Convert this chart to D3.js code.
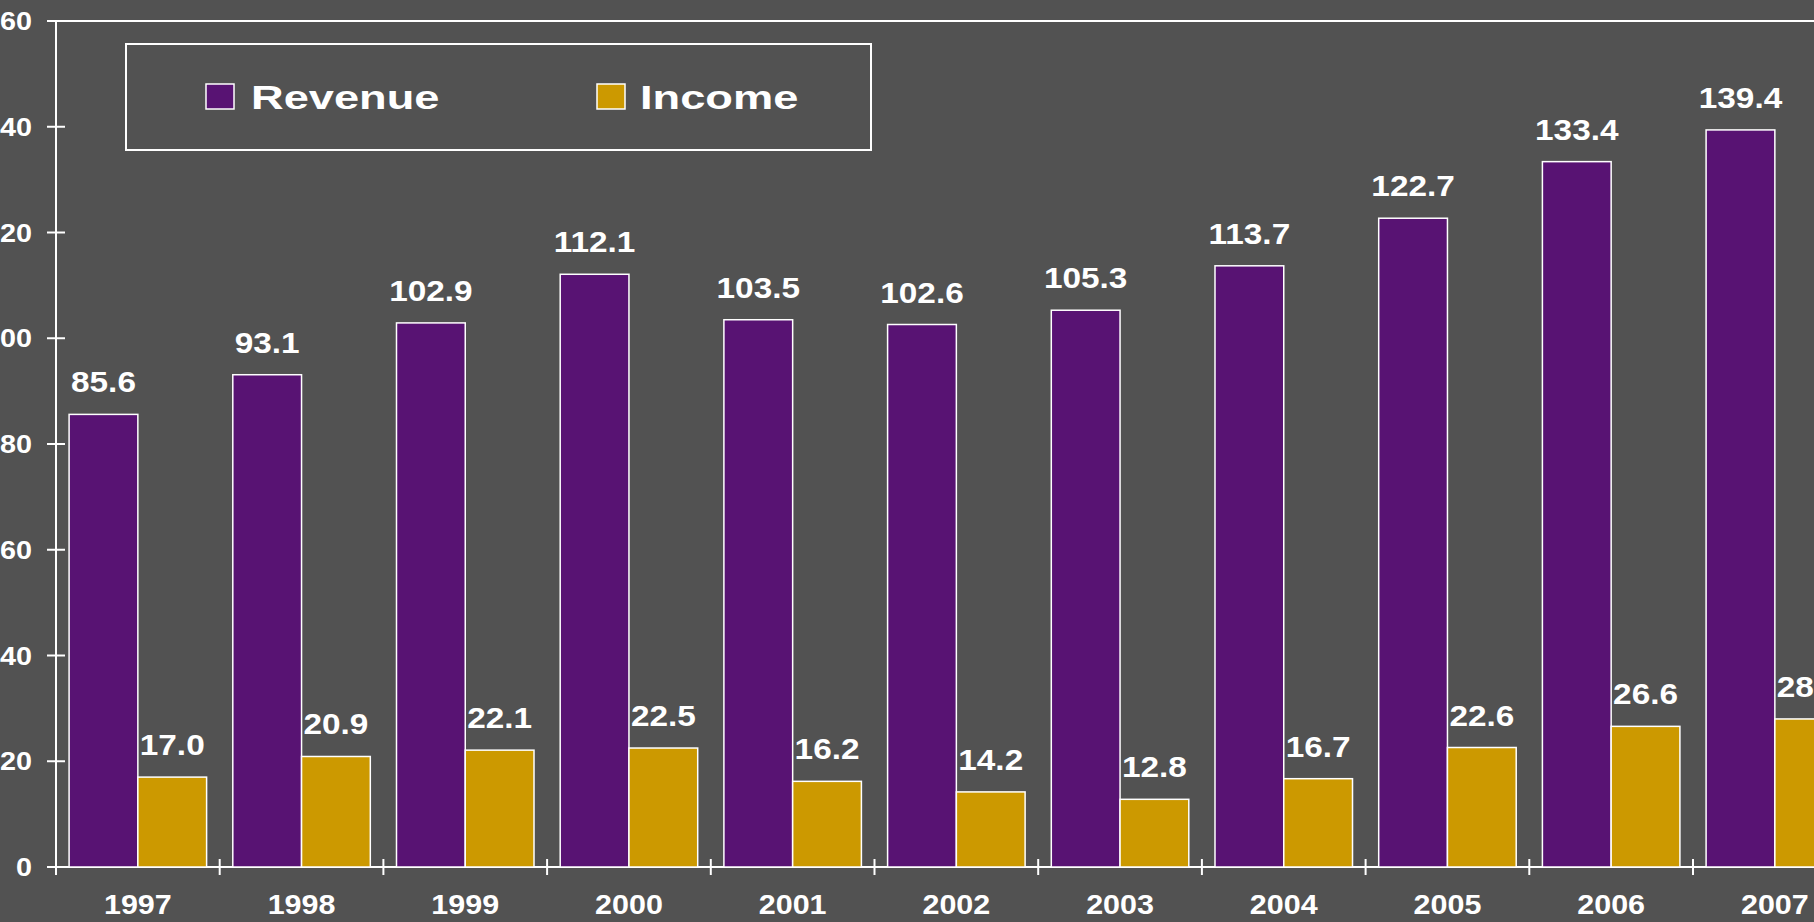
<!DOCTYPE html>
<html>
<head>
<meta charset="utf-8">
<script src="https://cdn.jsdelivr.net/npm/d3@7"></script>
<style>
  html, body { margin: 0; padding: 0; background: #525252; overflow: hidden; }
  svg { display: block; }
  text { font-family: "Liberation Sans", Arial, sans-serif; font-weight: bold; fill: #ffffff; }
</style>
</head>
<body>
<script>
// Annual figures, 1997–2007
const years   = ["1997","1998","1999","2000","2001","2002","2003","2004","2005","2006","2007"];
const revenue = [85.6, 93.1, 102.9, 112.1, 103.5, 102.6, 105.3, 113.7, 122.7, 133.4, 139.4];
const income  = [17.0, 20.9, 22.1, 22.5, 16.2, 14.2, 12.8, 16.7, 22.6, 26.6, 28.0];
const seriesNames = ["Revenue", "Income"];
const yTicks = [0, 20, 40, 60, 80, 100, 120, 140, 160];

(function () {
  const W = 1814, H = 922;
  const colors = { Revenue: "#581373", Income: "#cc9900" };

  const svg = d3.select("body").append("svg").attr("width", W).attr("height", H);
  svg.append("rect").attr("width", W).attr("height", H).attr("fill", "#525252");

  // Plot area (runs past the right edge of the page)
  const plotLeft = 56, plotTop = 21, plotBottom = 867, plotRight = 56 + 11 * 163.7;

  const x = d3.scaleBand().domain(years).range([plotLeft, plotRight])
    .paddingInner(0.16).paddingOuter(0.08);
  const xs = d3.scaleBand().domain(seriesNames).range([0, x.bandwidth()]);
  const y = d3.scaleLinear().domain([0, 160]).range([plotBottom, plotTop]);

  // Text helper: glyphs are drawn slightly widened
  function label(g, tx, ty, str, size, sx, anchor) {
    return g.append("text")
      .attr("transform", `translate(${tx},${ty}) scale(${sx},1)`)
      .attr("text-anchor", anchor)
      .style("font-size", size + "px")
      .text(str);
  }

  const axisG = svg.append("g");
  // top border
  axisG.append("line").attr("x1", plotLeft - 9).attr("x2", W + 50)
    .attr("y1", y(160)).attr("y2", y(160))
    .attr("stroke", "#fff").attr("stroke-width", 2);

  const rows = years.map((yr, i) => ({ yr, Revenue: revenue[i], Income: income[i] }));

  // bars
  const groups = svg.append("g").selectAll("g").data(rows).join("g")
    .attr("transform", d => `translate(${x(d.yr)},0)`);

  seriesNames.forEach(s => {
    groups.append("rect")
      .attr("x", xs(s))
      .attr("width", xs.bandwidth())
      .attr("y", d => y(d[s]))
      .attr("height", d => y(0) - y(d[s]))
      .attr("fill", colors[s])
      .attr("stroke", "#fff").attr("stroke-width", 1.5);
  });

  // value labels
  const lblG = svg.append("g");
  rows.forEach(d => {
    seriesNames.forEach(s => {
      label(lblG, x(d.yr) + xs(s) + xs.bandwidth() / 2, y(d[s]) - 22, d[s].toFixed(1), 29, 1.15, "middle");
    });
  });

  // y axis
  axisG.append("line").attr("x1", plotLeft).attr("x2", plotLeft)
    .attr("y1", y(160)).attr("y2", plotBottom + 8)
    .attr("stroke", "#fff").attr("stroke-width", 2);
  yTicks.forEach(t => {
    axisG.append("line").attr("x1", plotLeft - 9).attr("x2", plotLeft + 9)
      .attr("y1", y(t)).attr("y2", y(t))
      .attr("stroke", "#fff").attr("stroke-width", 2);
    label(axisG, 32, y(t) + 9, String(t), 25, 1.15, "end");
  });

  // x axis
  axisG.append("line").attr("x1", plotLeft - 9).attr("x2", W + 50)
    .attr("y1", y(0)).attr("y2", y(0))
    .attr("stroke", "#fff").attr("stroke-width", 2);
  const edge = d => x(d) - x.step() * x.paddingOuter();
  years.forEach(yr => {
    axisG.append("line").attr("x1", edge(yr)).attr("x2", edge(yr))
      .attr("y1", plotBottom - 8).attr("y2", plotBottom + 8)
      .attr("stroke", "#fff").attr("stroke-width", 2);
    label(axisG, x(yr) + x.bandwidth() / 2, 914, yr, 27, 1.13, "middle");
  });

  // legend
  const leg = svg.append("g");
  leg.append("rect").attr("x", 126).attr("y", 44).attr("width", 745).attr("height", 106)
    .attr("fill", "none").attr("stroke", "#fff").attr("stroke-width", 2);
  const legItems = [
    { name: "Revenue", sx: 206, tx: 251 },
    { name: "Income",  sx: 597, tx: 640 }
  ];
  legItems.forEach(it => {
    leg.append("rect").attr("x", it.sx).attr("y", 84).attr("width", 28).attr("height", 25)
      .attr("fill", colors[it.name]).attr("stroke", "#fff").attr("stroke-width", 1.5);
    label(leg, it.tx, 109, it.name, 33.5, 1.35, "start");
  });
})();
</script>
</body>
</html>
